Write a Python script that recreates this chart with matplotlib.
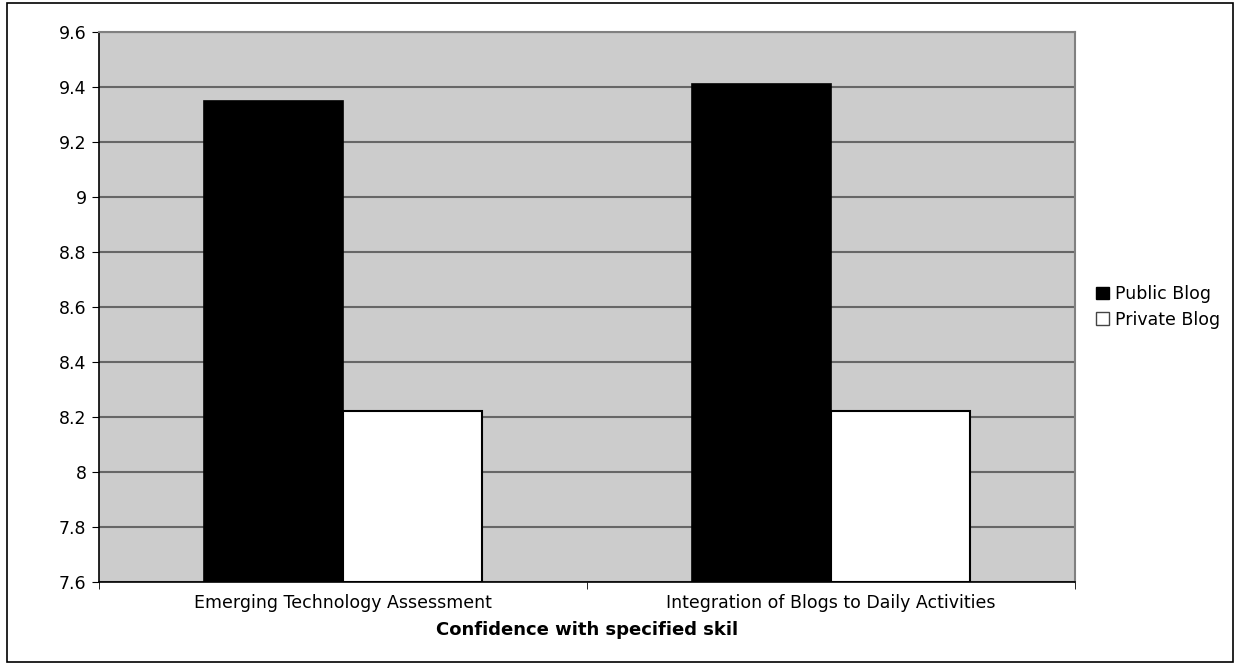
import matplotlib
matplotlib.use("Agg")
import matplotlib.pyplot as plt
import numpy as np
from matplotlib.patches import Rectangle

categories = ["Emerging Technology Assessment", "Integration of Blogs to Daily Activities"]
series_names = ["Public Blog", "Private Blog"]
public_vals = [9.35, 9.41]
private_vals = [8.22, 8.22]
yticks = [7.6, 7.8, 8.0, 8.2, 8.4, 8.6, 8.8, 9.0, 9.2, 9.4, 9.6]
ytick_labels = ["7.6", "7.8", "8", "8.2", "8.4", "8.6", "8.8", "9", "9.2", "9.4", "9.6"]
xlabel = "Confidence with specified skil"

W, H = 1236, 663
fig = plt.figure(figsize=(W / 100, H / 100), dpi=100)
plt.rcParams['font.family'] = ['DejaVu Sans']

# outer border
fig.patches.append(Rectangle((7 / W, 1 / H), (1233 - 7) / W, (660 - 1) / H,
                             transform=fig.transFigure, fill=False,
                             edgecolor='black', linewidth=1.2))

ax = fig.add_axes([99 / W, 1 - 582 / H, 976 / W, 550 / H])
ax.set_facecolor('#CCCCCC')

x = np.arange(len(categories))
bw = 1 / 3.5
ax.bar(x - bw / 2, [v - 7.6 for v in public_vals], bw, bottom=7.6, color='black',
       edgecolor='black', linewidth=1.2, label=series_names[0], zorder=3)
ax.bar(x + bw / 2, [v - 7.6 for v in private_vals], bw, bottom=7.6, color='white',
       edgecolor='black', linewidth=1.5, label=series_names[1], zorder=3)

ax.set_ylim(7.6, 9.6)
ax.set_xlim(-0.5, len(categories) - 0.5)
ax.set_yticks(yticks)
ax.set_yticklabels(ytick_labels, fontsize=12.5)
ax.yaxis.grid(True, color='#666666', linewidth=1.5, zorder=1)
ax.set_axisbelow(True)

ax.set_xticks(x)
ax.set_xticklabels(categories, fontsize=12.5)
ax.tick_params(axis='x', length=0, pad=9)
ax.set_xticks(np.arange(-0.5, len(categories)), minor=True)
ax.tick_params(axis='x', which='minor', length=5, direction='out', color='black')
ax.tick_params(axis='y', length=5, direction='out', color='black', pad=4)

ax.set_xlabel(xlabel, fontsize=13, fontweight='bold', labelpad=6)

for s in ['left', 'bottom']:
    ax.spines[s].set_color('black')
    ax.spines[s].set_linewidth(1.2)
ax.spines['right'].set_color('#808080')
ax.spines['right'].set_linewidth(1.5)
ax.spines['top'].set_color('#808080')
ax.spines['top'].set_linewidth(1.5)

leg = ax.legend(loc='center left', bbox_to_anchor=(1.022, 0.5), frameon=False,
                fontsize=12.5, handlelength=0.75, handleheight=0.75, handletextpad=0.3,
                labelspacing=0.45, borderaxespad=0, borderpad=0)
for h in leg.legend_handles:
    h.set_linewidth(1.0)
leg.legend_handles[1].set_edgecolor('#444444')

fig.savefig("out.png", dpi=100)
